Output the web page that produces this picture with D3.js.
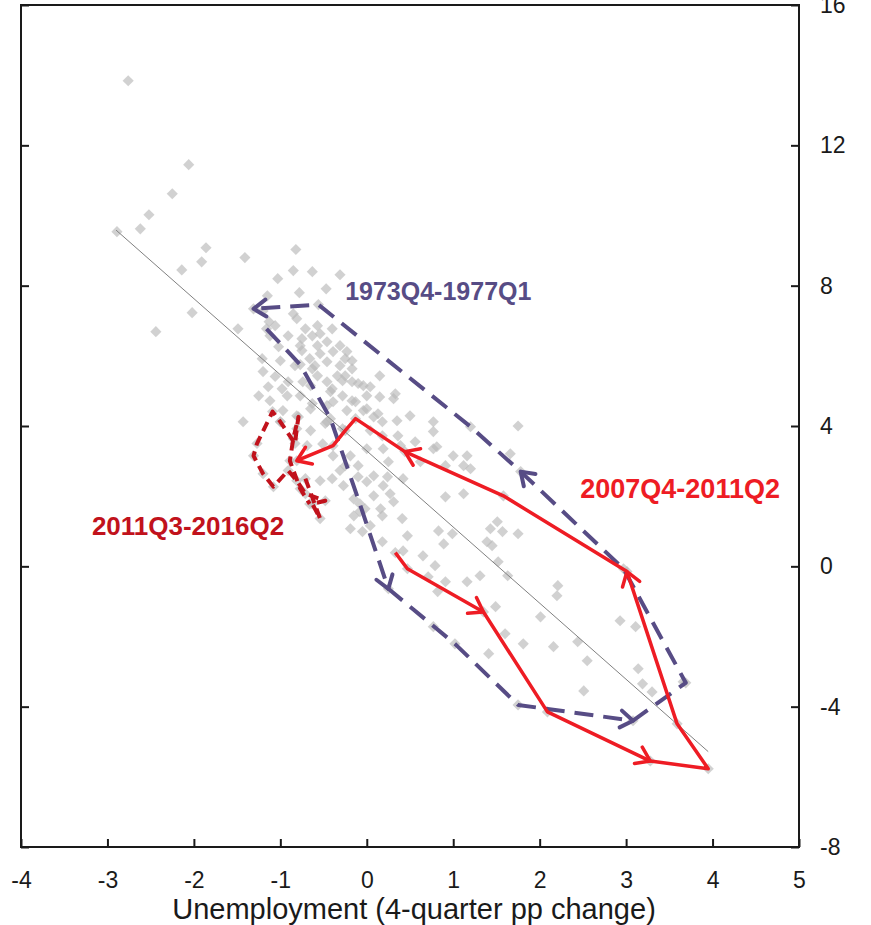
<!DOCTYPE html>
<html>
<head>
<meta charset="utf-8">
<script src="https://cdn.jsdelivr.net/npm/d3@7"></script>
<style>
  body { margin: 0; background: #fff; }
  svg { display: block; font-family: "Liberation Sans", Arial, sans-serif; }
</style>
</head>
<body>
<svg id="chart" width="871" height="925"></svg>
<script>
// quarters outside the highlighted episodes: [unemployment change, output growth]
const otherQuarters = [
  [-2.76,13.84],[-2.06,11.45],[-2.25,10.62],[-2.52,10.02],[-2.62,9.62],[-2.89,9.54],[-1.86,9.08],[-1.91,8.68],
  [-2.14,8.45],[-1.41,8.80],[-0.82,9.03],[-0.85,8.43],[-0.63,8.40],[-1.03,8.20],[-0.31,8.31],[-0.47,7.91],
  [-0.78,7.80],[-2.02,7.23],[-2.44,6.69],[-1.15,7.71],[-1.49,6.77],[-1.20,7.28],[-0.85,7.20],[-1.13,6.97],
  [-1.06,6.86],[-0.81,7.06],[-0.71,6.77],[-0.57,6.86],[-0.40,6.77],[-0.54,6.63],[-0.91,6.57],[-1.12,6.57],
  [-0.75,6.49],[-0.63,6.57],[-0.46,6.40],[-0.31,6.29],[-0.57,6.29],[-0.75,6.15],[-0.54,6.06],[-0.66,5.92],
  [-0.39,6.12],[-0.23,6.12],[-0.17,5.86],[-1.21,5.92],[-1.00,5.86],[-0.83,5.72],[-0.60,5.72],[-0.46,5.83],
  [-0.31,5.72],[-0.34,5.43],[-0.57,5.43],[-0.25,5.43],[-1.20,5.55],[-1.06,5.41],[-0.91,5.26],[-0.46,5.26],
  [-0.17,5.26],[-0.04,5.15],[0.15,5.43],[-0.65,5.15],[-0.92,4.86],[-0.77,4.86],[-0.42,4.98],[-0.28,4.86],
  [-0.13,4.69],[0.04,5.12],[0.31,4.78],[0.15,4.83],[-0.65,4.49],[-0.39,4.69],[-0.23,4.44],[0.00,4.49],
  [0.13,4.35],[0.18,4.12],[-0.97,4.44],[-0.81,4.29],[-1.43,4.12],[-0.46,4.12],[-1.02,6.26],[-0.77,6.29],
  [-0.63,5.63],[-0.25,5.92],[-0.17,5.63],[-0.10,5.21],[-0.28,5.29],[-0.40,5.06],[-0.74,5.26],[-0.98,5.06],
  [-1.14,5.12],[-1.25,4.86],[-1.12,4.72],[-0.63,4.64],[-0.46,4.58],[-0.17,4.72],[0.00,4.86],[0.33,4.92],
  [-0.04,4.44],[0.08,4.26],[0.35,4.15],[0.50,4.29],[0.77,4.12],[-1.00,4.12],[-0.65,3.87],[-0.48,4.07],
  [-0.28,3.92],[0.04,3.87],[0.18,3.72],[0.36,3.72],[0.56,3.55],[0.77,3.35],[-0.51,3.49],[-0.69,3.44],
  [-0.39,3.15],[-0.19,3.15],[0.00,3.35],[0.19,3.35],[-0.10,2.87],[-0.31,2.73],[-0.40,2.50],[0.25,2.98],
  [0.08,2.58],[0.00,2.41],[0.19,2.30],[0.42,2.50],[0.62,2.98],[0.91,2.87],[1.00,3.15],[1.12,2.87],
  [0.08,2.01],[0.31,1.84],[0.16,1.64],[-0.08,1.56],[0.41,1.36],[0.91,1.98],[0.47,0.87],[-0.05,0.99],
  [0.18,0.70],[1.39,0.70],[1.51,1.27],[0.77,3.84],[1.75,4.00],[0.39,3.44],[0.81,3.41],[1.16,3.15],
  [1.20,2.78],[1.66,3.21],[-0.54,2.44],[-0.25,2.87],[-0.10,2.55],[0.24,2.55],[-0.27,2.30],[-0.15,1.92],
  [0.27,2.07],[-0.02,1.64],[-0.15,1.44],[0.18,1.44],[-0.19,1.07],[0.04,1.16],[1.12,2.07],[0.83,1.01],
  [0.99,0.93],[0.89,0.64],[0.42,0.44],[0.65,0.30],[0.79,0.02],[0.71,-0.30],[1.43,1.07],[1.57,0.99],
  [1.75,0.93],[1.45,0.59],[1.31,-0.27],[1.52,0.13],[1.63,-0.27],[1.16,-0.44],[0.91,-0.44],[0.82,-0.72],
  [2.20,-0.84],[2.21,-0.55],[1.49,-1.15],[2.01,-1.44],[1.60,-1.92],[1.81,-2.21],[2.16,-2.29],[2.44,-2.15],
  [2.55,-2.69],[1.41,-2.49],[0.77,-1.72],[2.51,-3.55],[2.93,-1.55],[3.11,-1.72],[3.14,-2.92],[3.19,-3.35],
  [3.30,-3.58],[3.66,-3.29]
];

// 1973Q4-1977Q1
const episode1973 = [
  [-1.16,6.77],[-0.77,5.75],[-0.42,4.21],[-0.08,1.78],[0.25,-0.64],[1.02,-2.21],[1.75,-3.95],
  [3.08,-4.40],[3.69,-3.32],[2.97,-0.07],[1.78,2.70],[1.20,3.98],[-0.56,7.46],[-1.31,7.34]
];
const arrows1973 = [4, 7, 10, 13];

// 2007Q4-2011Q2
const episode2007 = [
  [0.33,0.39],[0.47,-0.07],[1.35,-1.30],[2.09,-4.15],[3.28,-5.55],[3.95,-5.77],[3.59,-4.49],
  [3.01,-0.15],[1.58,2.01],[0.44,3.27],[-0.13,4.21],[-0.25,3.87],[-0.39,3.44],[-0.81,3.01]
];
const arrows2007 = [2, 4, 7, 9, 13];

// 2011Q3-2016Q2
const episode2011 = [
  [-0.71,2.50],[-0.54,1.36],[-0.63,1.78],[-0.48,1.87],[-0.71,2.07],[-0.81,2.44],[-0.91,2.73],
  [-1.08,2.27],[-1.20,2.64],[-1.31,3.15],[-1.27,3.50],[-1.09,4.41],[-1.00,4.12],[-0.83,3.50],
  [-0.81,3.92],[-0.79,4.26],[-0.85,3.64],[-0.89,3.01],[-0.77,2.21],[-0.66,1.78]
];

// fitted line: slope, intercept, x range
const fitSlope = -2.17;
const fitIntercept = 3.29;
const fitRange = [-2.9, 3.95];

const xTicks = [-4, -3, -2, -1, 0, 1, 2, 3, 4, 5];
const yTicks = [-8, -4, 0, 4, 8, 12, 16];

var plotLeft = 21, plotRight = 799, plotTop = 5, plotBottom = 847;

var svg = d3.select("#chart");

var x = d3.scaleLinear().domain([-4, 5]).range([plotLeft, plotRight]);
var y = d3.scaleLinear().domain([-8, 16]).range([plotBottom, plotTop]);

// scatter of all quarters
var allQuarters = otherQuarters.concat(episode1973, episode2007, episode2011);
var diamond = d3.symbol().type(d3.symbolSquare).size(62)();

svg.append("g")
  .selectAll("path")
  .data(allQuarters)
  .enter().append("path")
    .attr("d", diamond)
    .attr("transform", function(d) {return "translate(" + x(d[0]) + "," + y(d[1]) + ") rotate(45)";})
    .attr("fill", "#b9b9b9")
    .attr("fill-opacity", 0.65);

// regression line
svg.append("line")
  .attr("x1", x(fitRange[0]))
  .attr("y1", y(fitSlope * fitRange[0] + fitIntercept))
  .attr("x2", x(fitRange[1]))
  .attr("y2", y(fitSlope * fitRange[1] + fitIntercept))
  .attr("stroke", "#808080")
  .attr("stroke-width", 1);

var line = d3.line().x(function(d) {return x(d[0]);}).y(function(d) {return y(d[1]);});

function arrowHead(pts, i, len) {
  var tx = x(pts[i][0]), ty = y(pts[i][1]);
  var px = x(pts[i-1][0]), py = y(pts[i-1][1]);
  var a = Math.atan2(ty - py, tx - px);
  var s = 0.6;
  return "M" + (tx - len * Math.cos(a - s)) + "," + (ty - len * Math.sin(a - s)) +
         "L" + tx + "," + ty +
         "L" + (tx - len * Math.cos(a + s)) + "," + (ty - len * Math.sin(a + s));
}

function drawEpisode(pts, arrows, color, width, dash, len) {
  var g = svg.append("g");
  g.append("path")
    .attr("d", line(pts))
    .attr("fill", "none")
    .attr("stroke", color)
    .attr("stroke-width", width)
    .attr("stroke-linejoin", "round")
    .attr("stroke-dasharray", dash);
  g.selectAll(".head")
    .data(arrows)
    .enter().append("path")
      .attr("class", "head")
      .attr("d", function(i) {return arrowHead(pts, i, len);})
      .attr("fill", "none")
      .attr("stroke", color)
      .attr("stroke-width", width)
      .attr("stroke-linecap", "round")
      .attr("stroke-linejoin", "round");
}

drawEpisode(episode1973, arrows1973, "#574c85", 4, "19,10", 15);
drawEpisode(episode2007, arrows2007, "#ee1c24", 3.5, null, 16);
drawEpisode(episode2011, [], "#c1121c", 4, "10,6", 0);

// frame + axes
svg.append("rect")
  .attr("x", plotLeft).attr("y", plotTop)
  .attr("width", plotRight - plotLeft).attr("height", plotBottom - plotTop)
  .attr("fill", "none")
  .attr("stroke", "#1a1a1a")
  .attr("stroke-width", 2);

var xAxis = svg.append("g")
  .attr("transform", "translate(0," + plotBottom + ")")
  .call(d3.axisBottom(x).tickValues(xTicks).tickSize(-8).tickSizeOuter(0).tickPadding(25)
        .tickFormat(function(d) {return String(d);}));

var yRight = svg.append("g")
  .attr("transform", "translate(" + plotRight + ",0)")
  .call(d3.axisRight(y).tickValues(yTicks).tickSize(-8).tickSizeOuter(0).tickPadding(21)
        .tickFormat(function(d) {return String(d);}));

var yLeft = svg.append("g")
  .attr("transform", "translate(" + plotLeft + ",0)")
  .call(d3.axisLeft(y).tickValues(yTicks).tickSize(-8).tickSizeOuter(0).tickFormat(""));

[xAxis, yRight, yLeft].forEach(function(a) {
  a.select(".domain").remove();
  a.selectAll(".tick line").attr("stroke", "#1a1a1a").attr("stroke-width", 2);
  a.selectAll(".tick text")
    .attr("fill", "#1a1a1a")
    .style("font-family", "'Liberation Sans', Arial, sans-serif")
    .style("font-size", "23px");
});

svg.append("text")
  .attr("x", 414)
  .attr("y", 919)
  .attr("text-anchor", "middle")
  .attr("fill", "#1a1a1a")
  .style("font-size", "29px")
  .text("Unemployment (4-quarter pp change)");

// episode labels
svg.append("text")
  .attr("x", x(-0.25)).attr("y", y(7.6))
  .attr("fill", "#574c85")
  .style("font-size", "25px").style("font-weight", "bold")
  .text("1973Q4-1977Q1");

svg.append("text")
  .attr("x", x(2.47)).attr("y", y(1.96))
  .attr("fill", "#ee1c24")
  .style("font-size", "27px").style("font-weight", "bold")
  .text("2007Q4-2011Q2");

svg.append("text")
  .attr("x", x(-3.18)).attr("y", y(0.9))
  .attr("fill", "#c1121c")
  .style("font-size", "26px").style("font-weight", "bold")
  .text("2011Q3-2016Q2");
</script>
</body>
</html>
